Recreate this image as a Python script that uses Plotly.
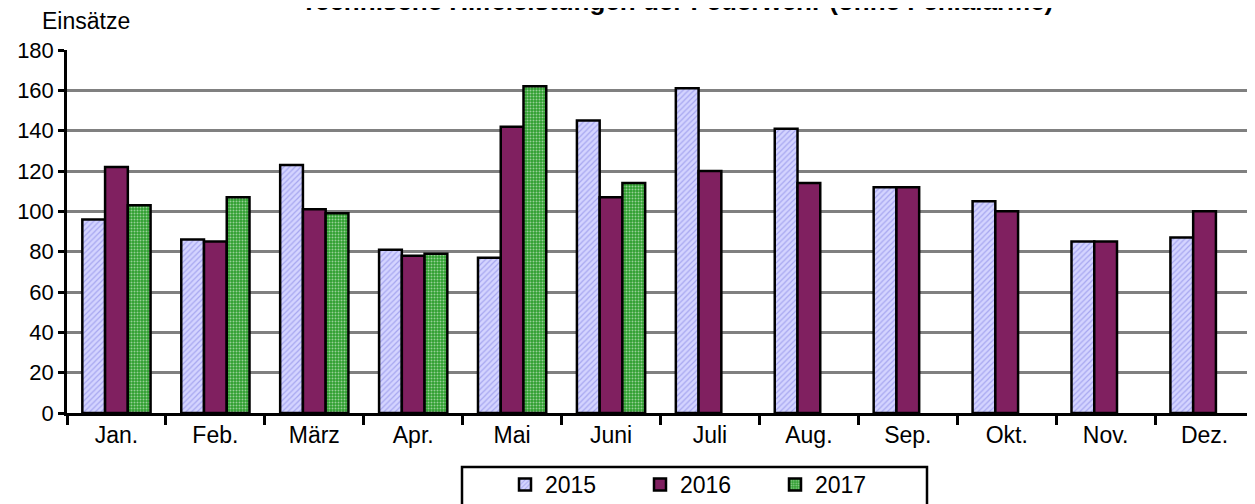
import plotly.graph_objects as go

months = ["Jan.", "Feb.", "März", "Apr.", "Mai", "Juni", "Juli", "Aug.", "Sep.", "Okt.", "Nov.", "Dez."]
v2015 = [96, 86, 123, 81, 77, 145, 161, 141, 112, 105, 85, 87]
v2016 = [122, 85, 101, 78, 142, 107, 120, 114, 112, 100, 85, 100]
v2017 = [103, 107, 99, 79, 162, 114, None, None, None, None, None, None]
years = ["2015", "2016", "2017"]

FONT = "Liberation Sans, Arial, sans-serif"
OFF = 8  # default page body margin
W, H = 1255, 504
# plot area in screen pixels, converted to figure pixels
L, R, T, B = 67 - OFF, 1254 - OFF, 50 - OFF, 413 - OFF


def px_x(sx):
    return (sx - OFF - L) / (R - L)


def px_y(sy):
    return (B - (sy - OFF)) / (B - T)


fig = go.Figure()
fig.add_trace(go.Bar(
    name=years[0], x=months, y=v2015,
    marker=dict(color="#d4d4ff", line=dict(color="black", width=2.5),
                pattern=dict(shape="/", fgcolor="#7777e0", size=4, solidity=0.3))))
fig.add_trace(go.Bar(
    name=years[1], x=months, y=v2016,
    marker=dict(color="#802060", line=dict(color="black", width=2.5))))
fig.add_trace(go.Bar(
    name=years[2], x=months, y=v2017,
    marker=dict(color="#2e9e2e", line=dict(color="black", width=2.5),
                pattern=dict(shape=".", fgcolor="white", bgcolor="#2e9e2e", size=3, solidity=0.35))))

fig.update_layout(
    width=W, height=H,
    margin=dict(l=L, r=W - R, t=T, b=H - B, autoexpand=False),
    paper_bgcolor="white", plot_bgcolor="white",
    barmode="group", bargap=0.31, bargroupgap=0,
    font=dict(family=FONT, size=22, color="black"),
    showlegend=True,
    legend=dict(orientation="h", xref="container", yref="container",
                x=(505 - OFF) / W, xanchor="left", y=1 - (463 - OFF) / H, yanchor="top",
                borderwidth=0, bgcolor="rgba(0,0,0,0)",
                font=dict(size=23, family=FONT), entrywidth=90, entrywidthmode="pixels",
                itemwidth=30),
    xaxis=dict(showline=True, linecolor="black", linewidth=2.5, ticks="outside",
               tickson="boundaries", ticklen=9, tickwidth=2.5, tickcolor="black",
               showgrid=False, tickfont=dict(size=23), automargin=False),
    yaxis=dict(range=[0, 180], dtick=20, showline=True, linecolor="black", linewidth=2.5,
               ticks="outside", ticklen=6, tickwidth=2.5, tickcolor="black",
               showgrid=True, gridcolor="#808080", gridwidth=3,
               zeroline=False, tickfont=dict(size=22), automargin=False),
    shapes=[
        dict(type="rect", xref="paper", yref="paper",
             x0=px_x(462), x1=px_x(927), y0=px_y(520), y1=px_y(467),
             line=dict(color="black", width=2.5), fillcolor="rgba(0,0,0,0)", layer="above"),
    ],
    annotations=[
        dict(text="<b>Technische Hilfeleistungen der Feuerwehr (ohne Fehlalarme)</b>",
             xref="paper", yref="paper", x=px_x(677), y=px_y(1),
             xanchor="center", yanchor="middle", showarrow=False,
             font=dict(size=26, family=FONT)),
        dict(text="Einsätze", xref="paper", yref="paper", x=px_x(40),
             y=px_y(21), xanchor="left", yanchor="middle", showarrow=False,
             font=dict(size=23, family=FONT)),
    ],
)
fig.write_html("out.html")
